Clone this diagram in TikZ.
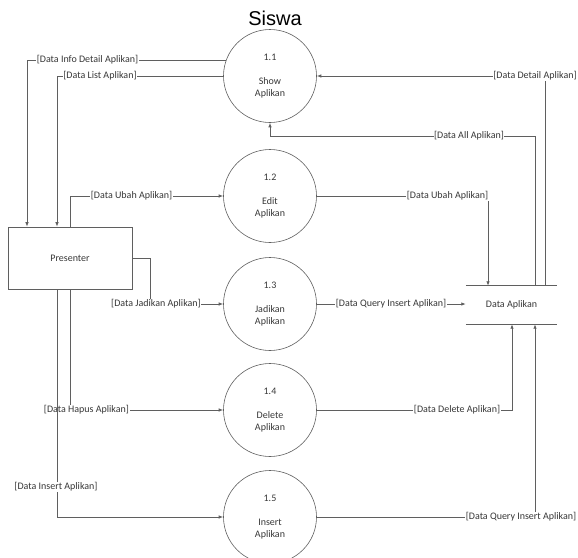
\documentclass[tikz,border=0pt]{standalone}
\usepackage{fontspec}
\setmainfont{Carlito}
\newfontfamily\titlefont{Liberation Sans}
\usetikzlibrary{arrows.meta,calc}
\definecolor{ln}{RGB}{95,95,95}
\definecolor{tx}{RGB}{55,55,55}
\begin{document}
\begin{tikzpicture}[x=1pt,y=-1pt,
  proc/.style={circle,draw=ln,line width=0.6pt,minimum size=93pt,inner sep=0pt,align=center,font=\fontsize{10}{12}\selectfont,text=tx},
  entity/.style={rectangle,draw=ln,line width=0.6pt,minimum width=124pt,minimum height=62pt,font=\fontsize{10}{12}\selectfont,text=tx},
  store/.style={minimum width=91pt,minimum height=38pt,inner sep=0pt,font=\fontsize{10}{12}\selectfont,text=tx},
  flow/.style={draw=ln,line width=0.8pt,-{Latex[length=4.5pt,width=3.5pt]}},
  lab/.style={fill=white,inner xsep=0.5pt,inner ysep=1pt,font=\fontsize{10}{12}\selectfont,text=tx}]
\useasboundingbox (0,0) rectangle (578,557);

\node[font=\titlefont\fontsize{20}{24}\selectfont] (title) at (275,18) {Siswa};

\node[proc] (c1) at (270,76) {1.1\\[12pt]Show\\Aplikan};
\node[proc] (c2) at (270,196) {1.2\\[12pt]Edit\\Aplikan};
\node[proc] (c3) at (270,304) {1.3\\[12pt]Jadikan\\Aplikan};
\node[proc] (c4) at (270,410) {1.4\\[12pt]Delete\\Aplikan};
\node[proc] (c5) at (270,517) {1.5\\[12pt]Insert\\Aplikan};

\node[entity] (pres) at (70,258) {Presenter};

\node[store] (ds) at (511.5,305) {Data Aplikan};
\draw[ln,line width=0.8pt] (ds.north west) -- (ds.north east);
\draw[ln,line width=0.8pt] (ds.south west) -- (ds.south east);

% left side flows
\draw[flow] (c1.160) -- (c1.160 -| 27,0) -- (27,0 |- pres.north);
\draw[flow] (c1.west) -- (c1.west -| 57,0) -- (57,0 |- pres.north);
\draw[flow] (pres.north) |- (c2.west);
\draw[flow] (pres.east) -- (150,0 |- pres.east) |- (c3.west);
\draw[flow] (pres.south) |- (c4.west);

% right side flows
\draw[flow] (545,0 |- ds.north) |- (c1.east);
\draw[flow] (535,0 |- ds.north) -- (535,136) -| (c1.south);
\draw[flow] (c2.east) -| (488,0 |- ds.north);
\draw[flow] (c3.east) -- (c3.east -| ds.west);
\draw[flow] (c4.east) -| (512,0 |- ds.south);
\draw[flow] (c5.east) -| (535,0 |- ds.south);

% labels
\node[lab] (l1) at (87.5,60) {[Data Info Detail Aplikan]};
\node[lab] (l2) at (100,76) {[Data List Aplikan]};
\node[lab] (l3) at (131.5,196) {[Data Ubah Aplikan]};
\node[lab] (l4) at (156,304) {[Data Jadikan Aplikan]};
\node[lab] (l5) at (86.5,410) {[Data Hapus Aplikan]};
\node[lab] (l7) at (535,76) {[Data Detail Aplikan]};
\node[lab] (l8) at (469,136) {[Data All Aplikan]};
\node[lab] (l9) at (447.5,196) {[Data Ubah Aplikan]};
\node[lab] (l10) at (391,304) {[Data Query Insert Aplikan]};
\node[lab] (l11) at (457,410) {[Data Delete Aplikan]};
\node[lab] (l12) at (521,517) {[Data Query Insert Aplikan]};

% insert flow passes over the Hapus label
\draw[flow] (57,0 |- pres.south) |- (c5.west);
\node[lab] (l6) at (56,487) {[Data Insert Aplikan]};
\end{tikzpicture}
\end{document}
